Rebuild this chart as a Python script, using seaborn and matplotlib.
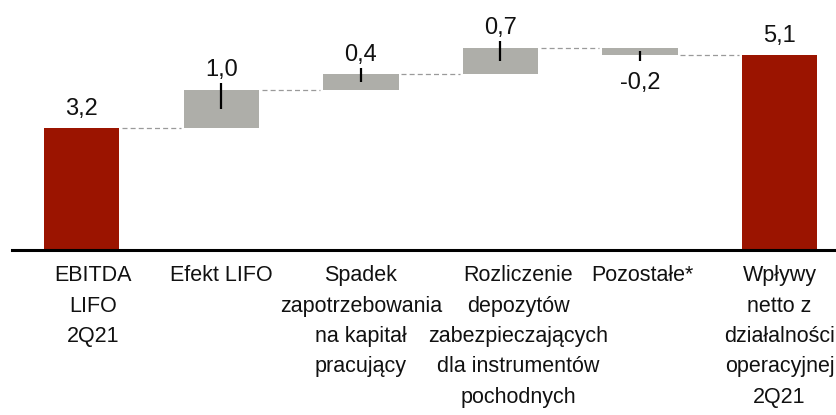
import numpy as np
import pandas as pd
import matplotlib
matplotlib.use("Agg")
import matplotlib.pyplot as plt
import seaborn as sns

# --- data -------------------------------------------------------------
categories = [
    "EBITDA\nLIFO\n2Q21",
    "Efekt LIFO",
    "Spadek\nzapotrzebowania\nna kapitał\npracujący",
    "Rozliczenie\ndepozytów\nzabezpieczających\ndla instrumentów\npochodnych",
    "Pozostałe*",
    "Wpływy\nnetto z\ndziałalności\noperacyjnej\n2Q21",
]
values = [3.2, 1.0, 0.4, 0.7, -0.2, 5.1]
kinds = ["total", "delta", "delta", "delta", "delta", "total"]
value_labels = ["3,2", "1,0", "0,4", "0,7", "-0,2", "5,1"]

# --- waterfall geometry ------------------------------------------------
bottoms, ends = [], []
running = 0.0
for v, k in zip(values, kinds):
    if k == "total":
        bottoms.append(0.0)
        running = v
    else:
        bottoms.append(running)
        running = running + v
    ends.append(running)

df = pd.DataFrame({"cat": categories, "value": values, "kind": kinds})

RED = "#9B1400"
GREY = "#AEAEA9"
colors = {"total": RED, "delta": GREY}

sns.set_theme(style="white")
plt.rcParams["font.family"] = ["Liberation Sans", "DejaVu Sans"]

fig = plt.figure(figsize=(8.36, 4.15), dpi=100)
ax = fig.add_axes([12 / 836, 165 / 415, 824 / 836, 250 / 415])

bar_w = 0.54
sns.barplot(data=df, x="cat", y="value", order=categories, color=GREY,
            saturation=1, width=bar_w, bottom=np.array(bottoms),
            edgecolor="none", linewidth=0, ax=ax)
for patch, k in zip(ax.patches, kinds):
    patch.set_facecolor(colors[k])

# dashed connectors between consecutive bars
for i in range(len(values) - 1):
    ax.plot([i + bar_w / 2 + 0.02, i + 1 - bar_w / 2 - 0.02],
            [ends[i], ends[i]], color="#9A9A9A", lw=0.9,
            ls=(0, (4, 2.5)), zorder=1)

# small markers on the change bars
for i, (v, k) in enumerate(zip(values, kinds)):
    if k != "delta":
        continue
    mid = bottoms[i] + v / 2
    tip = ends[i] + np.sign(v) * 0.16
    ax.plot([i, i], [mid, tip], color="black", lw=1.6, zorder=4,
            solid_capstyle="butt")

# value labels
for i, (v, lab) in enumerate(zip(values, value_labels)):
    dy = 9.5 if v >= 0 else -24.5
    ax.annotate(lab, (i, ends[i]), xytext=(0, dy), textcoords="offset points",
                ha="center", va="baseline", fontsize=17, color="#111111")

# category labels under the axis
label_dx = [8, 0, 0, 13, 2, 0]  # horizontal nudges, points
for i, lab in enumerate(categories):
    ax.annotate(lab, xy=(i, 0), xycoords=("data", "axes fraction"),
                xytext=(label_dx[i], -11), textcoords="offset points",
                ha="center", va="top", multialignment="center",
                fontsize=15.5, linespacing=1.585, color="#111111",
                annotation_clip=False)

ax.set_xlim(-0.5, 5.405)
ax.set_ylim(0, 250 / 38.2)
ax.set_xlabel("")
ax.set_ylabel("")
ax.set_yticks([])
ax.tick_params(axis="x", length=0, labelbottom=False)

for s in ["top", "left", "right"]:
    ax.spines[s].set_visible(False)
ax.spines["bottom"].set_color("black")
ax.spines["bottom"].set_linewidth(2.2)

fig.savefig("out.png", dpi=100)
